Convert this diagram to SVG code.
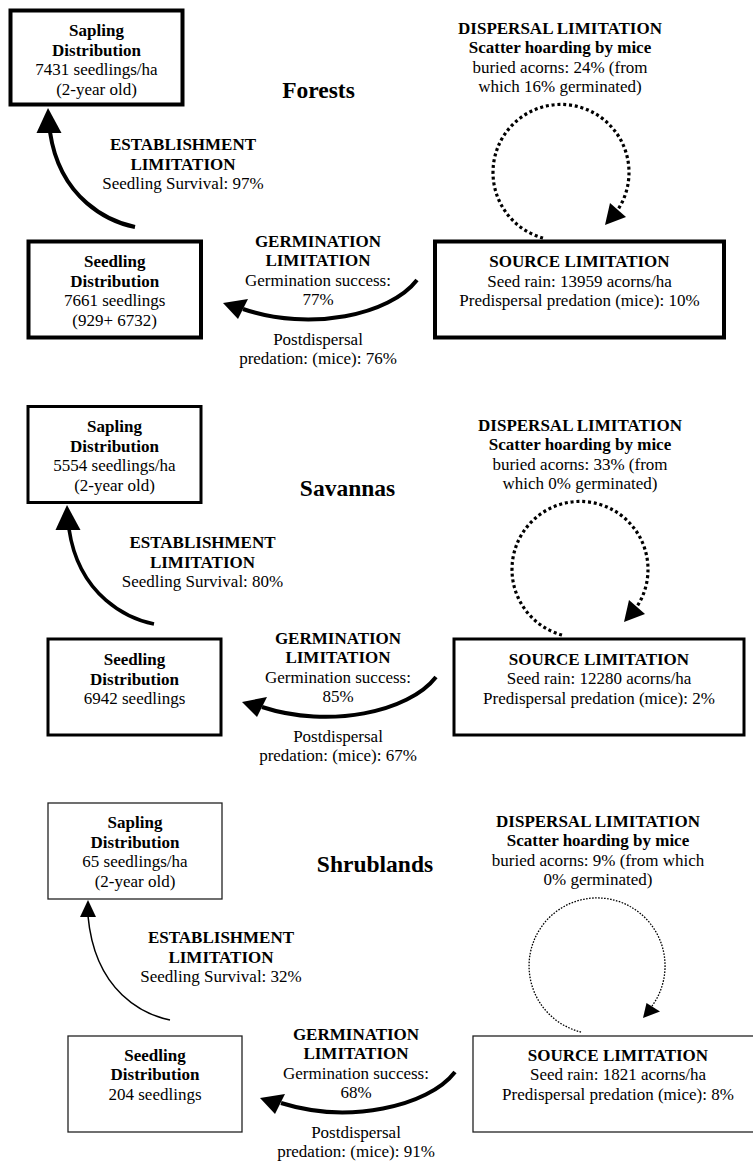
<svg xmlns="http://www.w3.org/2000/svg" width="753" height="1161" viewBox="0 0 753 1161">
<style>
.bg{fill:#fff}
.box{fill:#fff;stroke:#000}
.f4{stroke-width:4}
.f3{stroke-width:3}
.f1{stroke-width:1.3;stroke:#222}
text{font-family:"Liberation Serif","Times New Roman",serif;font-size:17px;text-anchor:middle;fill:#000}
.b{font-weight:bold}
.title{font-size:23.5px;font-weight:bold}
.arr{fill:none;stroke:#000}
.dot{fill:none;stroke:#000;stroke-width:3.2;stroke-dasharray:3 2.8}
.dotthin{fill:none;stroke:#000;stroke-width:1.3;stroke-dasharray:1.6 1.4}
.head{fill:#000}
</style>
<rect class="bg" x="0" y="0" width="753" height="1161"/>

<g id="connectors">
  <!-- Forests -->
  <path class="arr" stroke-width="4" d="M135,227 C110,222 60,200 50,132"/>
  <polygon class="head" points="48,108 36.5,133 61.5,133"/>
  <path class="arr" stroke-width="4" d="M417,280 C390,315 310,332 243,309"/>
  <polygon class="head" points="223,303 248,299 238,319"/>
  <path class="dot" d="M543,238 A68,68 0 1 1 617,211"/>
  <polygon class="head" points="605,225 610,203 626,217"/>
  <!-- Savannas -->
  <path class="arr" stroke-width="3.6" d="M154,624 C129,619 79,597 69,529"/>
  <polygon class="head" points="67,505 55.5,530 80.5,530"/>
  <path class="arr" stroke-width="4" d="M436,677 C409,712 329,729 262,707"/>
  <polygon class="head" points="242,702 267,697 257,717"/>
  <path class="dot" d="M562,635 A68,68 0 1 1 636,608"/>
  <polygon class="head" points="624,622 629,600 645,614"/>
  <!-- Shrublands -->
  <path class="arr" stroke-width="1.5" d="M170,1020 C145,1015 95,993 88,916"/>
  <polygon class="head" points="88,900 80,917 96,917"/>
  <path class="arr" stroke-width="4" d="M455,1072 C428,1107 348,1124 281,1103"/>
  <polygon class="head" points="260,1098 285,1094 275,1114"/>
  <path class="dotthin" d="M581,1032 A68,68 0 1 1 652,1006"/>
  <polygon class="head" points="643,1018 646.5,1003 660,1011.5"/>
</g>

<!-- Forests -->
<g id="title-forests"><text class="title" x="318.5" y="98">Forests</text></g>
<g id="forest-sapling">
  <rect class="box f4" x="10.5" y="10.5" width="172" height="94"/>
  <text class="b" x="96.5" y="36">Sapling</text>
  <text class="b" x="96.5" y="55.5">Distribution</text>
  <text x="96.5" y="75">7431 seedlings/ha</text>
  <text x="96.5" y="94.5">(2-year old)</text>
</g>
<g id="forest-seedling">
  <rect class="box f4" x="28.5" y="241.5" width="172.5" height="96"/>
  <text class="b" x="114.7" y="267">Seedling</text>
  <text class="b" x="114.7" y="286.5">Distribution</text>
  <text x="114.7" y="306">7661 seedlings</text>
  <text x="114.7" y="325.5">(929+ 6732)</text>
</g>
<g id="forest-source">
  <rect class="box f4" x="435" y="241.5" width="289" height="96"/>
  <text class="b" x="579.5" y="267">SOURCE LIMITATION</text>
  <text x="579.5" y="286.5">Seed rain: 13959 acorns/ha</text>
  <text x="579.5" y="306">Predispersal predation (mice): 10%</text>
</g>
<g id="forest-dispersal">
  <text class="b" x="560" y="33.5">DISPERSAL LIMITATION</text>
  <text class="b" x="560" y="53">Scatter hoarding by mice</text>
  <text x="560" y="72.5">buried acorns: 24% (from</text>
  <text x="560" y="92">which 16% germinated)</text>
</g>
<g id="forest-establishment">
  <text class="b" x="183" y="150">ESTABLISHMENT</text>
  <text class="b" x="183" y="169.5">LIMITATION</text>
  <text x="183" y="189">Seedling Survival: 97%</text>
</g>
<g id="forest-germination">
  <text class="b" x="318" y="246.5">GERMINATION</text>
  <text class="b" x="318" y="266">LIMITATION</text>
  <text x="318" y="285.5">Germination success:</text>
  <text x="318" y="305">77%</text>
  <text x="318" y="344.5">Postdispersal</text>
  <text x="318" y="364">predation: (mice): 76%</text>
</g>

<!-- Savannas -->
<g id="title-savannas"><text class="title" x="347.5" y="496">Savannas</text></g>
<g id="savanna-sapling">
  <rect class="box f3" x="28" y="406.5" width="173" height="96"/>
  <text class="b" x="114.5" y="432">Sapling</text>
  <text class="b" x="114.5" y="451.5">Distribution</text>
  <text x="114.5" y="471">5554 seedlings/ha</text>
  <text x="114.5" y="490.5">(2-year old)</text>
</g>
<g id="savanna-seedling">
  <rect class="box f3" x="48" y="639" width="173" height="96"/>
  <text class="b" x="134.5" y="665">Seedling</text>
  <text class="b" x="134.5" y="684.5">Distribution</text>
  <text x="134.5" y="704">6942 seedlings</text>
</g>
<g id="savanna-source">
  <rect class="box f3" x="454" y="639" width="290" height="96"/>
  <text class="b" x="599" y="664.5">SOURCE LIMITATION</text>
  <text x="599" y="684">Seed rain: 12280 acorns/ha</text>
  <text x="599" y="703.5">Predispersal predation (mice): 2%</text>
</g>
<g id="savanna-dispersal">
  <text class="b" x="580" y="430.5">DISPERSAL LIMITATION</text>
  <text class="b" x="580" y="450">Scatter hoarding by mice</text>
  <text x="580" y="469.5">buried acorns: 33% (from</text>
  <text x="580" y="489">which 0% germinated)</text>
</g>
<g id="savanna-establishment">
  <text class="b" x="202.5" y="548">ESTABLISHMENT</text>
  <text class="b" x="202.5" y="567.5">LIMITATION</text>
  <text x="202.5" y="587">Seedling Survival: 80%</text>
</g>
<g id="savanna-germination">
  <text class="b" x="338" y="643.5">GERMINATION</text>
  <text class="b" x="338" y="663">LIMITATION</text>
  <text x="338" y="682.5">Germination success:</text>
  <text x="338" y="702">85%</text>
  <text x="338" y="741.5">Postdispersal</text>
  <text x="338" y="761">predation: (mice): 67%</text>
</g>

<!-- Shrublands -->
<g id="title-shrublands"><text class="title" x="375" y="872">Shrublands</text></g>
<g id="shrub-sapling">
  <rect class="box f1" x="48" y="803" width="174" height="96"/>
  <text class="b" x="135" y="828">Sapling</text>
  <text class="b" x="135" y="847.5">Distribution</text>
  <text x="135" y="867">65 seedlings/ha</text>
  <text x="135" y="886.5">(2-year old)</text>
</g>
<g id="shrub-seedling">
  <rect class="box f1" x="68" y="1036" width="174" height="96"/>
  <text class="b" x="155" y="1060.5">Seedling</text>
  <text class="b" x="155" y="1080">Distribution</text>
  <text x="155" y="1099.5">204 seedlings</text>
</g>
<g id="shrub-source">
  <rect class="box f1" x="473" y="1036" width="290" height="96"/>
  <text class="b" x="618" y="1060.5">SOURCE LIMITATION</text>
  <text x="618" y="1080">Seed rain: 1821 acorns/ha</text>
  <text x="618" y="1099.5">Predispersal predation (mice): 8%</text>
</g>
<g id="shrub-dispersal">
  <text class="b" x="598" y="826.5">DISPERSAL LIMITATION</text>
  <text class="b" x="598" y="846">Scatter hoarding by mice</text>
  <text x="598" y="865.5">buried acorns: 9% (from which</text>
  <text x="598" y="885">0% germinated)</text>
</g>
<g id="shrub-establishment">
  <text class="b" x="221" y="943">ESTABLISHMENT</text>
  <text class="b" x="221" y="962.5">LIMITATION</text>
  <text x="221" y="982">Seedling Survival: 32%</text>
</g>
<g id="shrub-germination">
  <text class="b" x="356" y="1039.5">GERMINATION</text>
  <text class="b" x="356" y="1059">LIMITATION</text>
  <text x="356" y="1078.5">Germination success:</text>
  <text x="356" y="1098">68%</text>
  <text x="356" y="1137.5">Postdispersal</text>
  <text x="356" y="1157">predation: (mice): 91%</text>
</g>
</svg>
